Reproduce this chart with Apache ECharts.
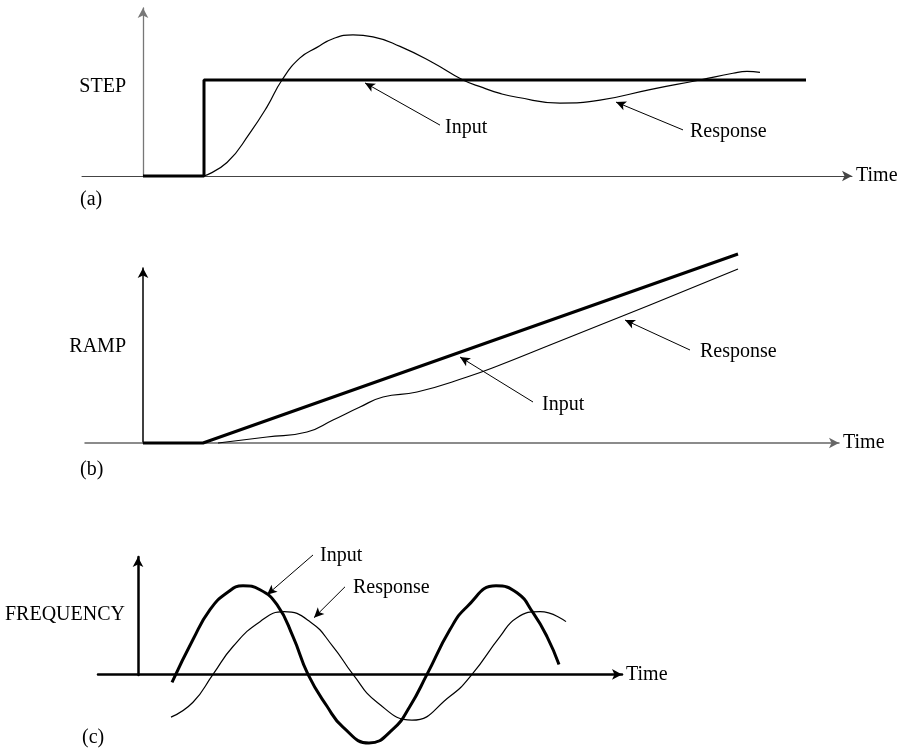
<!DOCTYPE html>
<html><head><meta charset="utf-8">
<script src="https://cdn.jsdelivr.net/npm/echarts@6/dist/echarts.min.js"></script>
<style>html,body{margin:0;padding:0;background:#fff}#c{width:904px;height:749px}</style>
</head><body><div id="c"></div>
<script>
// ---- Panel (a): STEP ----
const stepInputTime = [0, 6.1, 6.1, 66.3];
const stepInputVal  = [0, 0, 1, 1];
const stepRespTime  = [6.1, 8.4, 10.7, 12.4, 13.9, 15.7, 17.4, 19.0, 21.0, 23.0, 25.7, 29.0, 32.0, 34.0, 35.7, 37.4, 41.7, 45.7, 50.7, 55.7, 59.0, 60.4, 61.7];
const stepRespVal   = [0, 0.14, 0.45, 0.72, 1.0, 1.23, 1.34, 1.43, 1.47, 1.45, 1.35, 1.18, 1.0, 0.92, 0.86, 0.82, 0.76, 0.79, 0.90, 1.0, 1.07, 1.09, 1.08];
// ---- Panel (b): RAMP ----
const rampInputTime = [0, 6.0, 59.5];
const rampInputVal  = [0, 0, 1.89];
const rampRespTime  = [7.5, 12.4, 16.4, 19.0, 21.7, 24.0, 27.4, 32.4, 35.7, 40.7, 45.7, 50.7, 59.5];
const rampRespVal   = [0, 0.06, 0.11, 0.23, 0.36, 0.46, 0.51, 0.66, 0.78, 0.98, 1.18, 1.38, 1.74];
// ---- Panel (c): FREQUENCY ----
const freqInputTime = [3.4, 5.5, 7.2, 8.9, 10.5, 12.2, 13.9, 15.5, 17.0, 18.9, 20.5, 23.1, 25.5, 27.2, 28.9, 31.2, 32.9, 35.8, 37.9, 39.5, 40.9, 42.1];
const freqInputVal  = [-0.08, 0.35, 0.65, 0.82, 0.89, 0.85, 0.70, 0.38, 0.0, -0.32, -0.53, -0.69, -0.55, -0.32, 0.0, 0.45, 0.68, 0.89, 0.82, 0.62, 0.38, 0.10];
const freqRespTime  = [3.3, 5.5, 7.5, 9.5, 12.2, 14.6, 17.2, 19.5, 21.5, 23.9, 27.4, 31.2, 33.4, 36.2, 37.9, 40.2, 42.8];
const freqRespVal   = [-0.43, -0.28, 0.0, 0.28, 0.53, 0.63, 0.53, 0.28, 0.0, -0.28, -0.46, -0.22, 0.0, 0.38, 0.57, 0.63, 0.53];
// ---- Text ----
const axisTitles = ['STEP', 'RAMP', 'FREQUENCY'];
const panelTags = ['(a)', '(b)', '(c)'];
const timeLabel = 'Time';
const inputLabel = 'Input';
const responseLabel = 'Response';

const FONT = "'Liberation Serif','Times New Roman',serif";
const FS = 20;
const zip = (a, b) => a.map((x, i) => [x, b[i]]);
const chart = echarts.init(document.getElementById('c'));

function xAx(grid, min, max, color, width, showLine) {
  return {
    type: 'value', gridIndex: grid, min: min, max: max,
    axisLine: { show: showLine, onZero: true, symbol: ['none', 'arrow'], symbolSize: [8, 10], lineStyle: { color: color, width: width } },
    axisTick: { show: false }, axisLabel: { show: false }, splitLine: { show: false },
    name: showLine ? timeLabel : '', nameLocation: 'end', nameGap: 4,
    nameTextStyle: { fontFamily: FONT, fontSize: FS, color: '#000', verticalAlign: 'middle', align: 'left' }
  };
}
function yAx(grid, min, max, color, width, showLine) {
  return {
    type: 'value', gridIndex: grid, min: min, max: max,
    axisLine: { show: showLine, onZero: true, symbol: ['none', 'arrow'], symbolSize: [8, 10], lineStyle: { color: color, width: width } },
    axisTick: { show: false }, axisLabel: { show: false }, splitLine: { show: false }
  };
}
function arrows(list) {
  return {
    silent: true, symbol: ['none', 'arrow'], symbolSize: [7, 10],
    lineStyle: { color: '#000', width: 1, type: 'solid' }, label: { show: false },
    emphasis: { disabled: true },
    data: list.map(p => [{ coord: p[0] }, { coord: p[1] }])
  };
}
function line(xi, data, width, smooth, ml) {
  const s = { type: 'line', xAxisIndex: xi, yAxisIndex: xi, data: data, symbol: 'none', smooth: smooth,
    clip: false, lineStyle: { color: '#000', width: width }, silent: true };
  if (ml) s.markLine = ml;
  return s;
}
function txt(x, y, text, align) {
  return { type: 'text', x: x, y: y, silent: true,
    style: { text: text, font: FS + 'px ' + FONT, fill: '#000', textAlign: align, textVerticalAlign: 'middle' } };
}

const option = {
  animation: false,
  backgroundColor: '#fff',
  grid: [
    { left: 82, top: 8, width: 770, height: 168 },
    { left: 85, top: 268, width: 754, height: 175 },
    { left: 98, top: 550, width: 524, height: 200 },
    { left: 98, top: 557, width: 524, height: 118 }
  ],
  xAxis: [
    xAx(0, -6.1, 70.9, '#444', 1, true),
    xAx(1, -5.8, 69.6, '#666', 1.5, true),
    xAx(2, -4, 48.4, '#000', 2.5, true),
    xAx(3, -4, 48.4, '#000', 1, false)
  ],
  yAxis: [
    yAx(0, 0, 1.75, '#777', 1.3, true),
    yAx(1, 0, 1.75, '#000', 1.5, true),
    yAx(2, -0.75, 1.25, '#000', 1, false),
    yAx(3, 0, 1.18, '#000', 2.5, true)
  ],
  series: [
    line(0, zip(stepInputTime, stepInputVal), 3, false),
    line(0, zip(stepRespTime, stepRespVal), 1.2, 0.5,
      arrows([[[29.7, 0.53], [22.2, 0.97]], [[54.0, 0.48], [47.3, 0.77]]])),
    line(1, zip(rampInputTime, rampInputVal), 3, false),
    line(1, zip(rampRespTime, rampRespVal), 1.2, 0.5,
      arrows([[[39.0, 0.41], [31.7, 0.86]], [[54.7, 0.93], [48.2, 1.23]]])),
    line(2, zip(freqInputTime, freqInputVal), 3, 0.5),
    line(2, zip(freqRespTime, freqRespVal), 1.2, 0.5,
      arrows([[[17.5, 1.2], [12.9, 0.8]], [[20.7, 0.88], [17.6, 0.57]]]))
  ]
};
chart.setOption(option);

// annotation labels anchored in data coordinates
const notes = [
  [0, 30.2, 0.5, inputLabel], [0, 54.7, 0.46, responseLabel],
  [1, 39.9, 0.38, inputLabel], [1, 55.7, 0.91, responseLabel],
  [2, 18.2, 1.19, inputLabel], [2, 21.5, 0.87, responseLabel]
];
const graphics = [
  txt(126, 87, axisTitles[0], 'right'),
  txt(126, 347, axisTitles[1], 'right'),
  txt(125, 615, axisTitles[2], 'right'),
  txt(80, 200, panelTags[0], 'left'),
  txt(80, 470, panelTags[1], 'left'),
  txt(82, 738, panelTags[2], 'left')
];
notes.forEach(n => {
  const p = chart.convertToPixel({ xAxisIndex: n[0], yAxisIndex: n[0] }, [n[1], n[2]]);
  graphics.push(txt(p[0], p[1], n[3], 'left'));
});
chart.setOption({ graphic: graphics });
</script></body></html>
